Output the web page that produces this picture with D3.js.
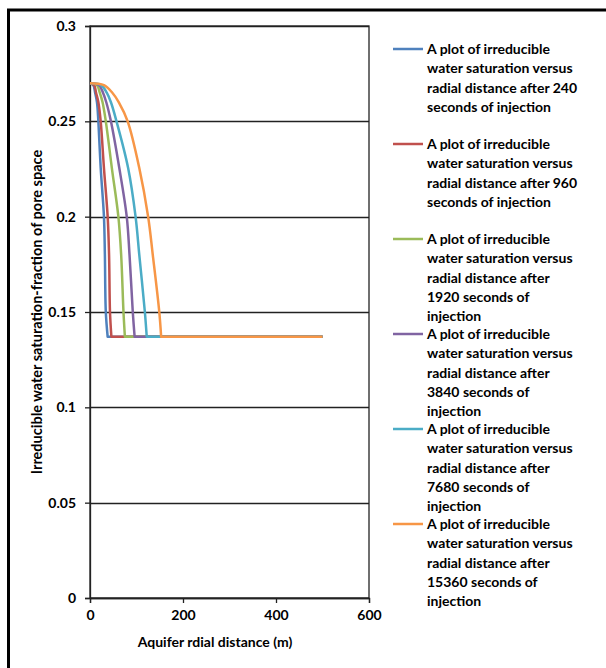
<!DOCTYPE html>
<html>
<head>
<meta charset="utf-8">
<script src="https://cdn.jsdelivr.net/npm/d3@7"></script>
<style>
  body { margin: 0; background: #fff; }
  text { font-family: Lato, "Open Sans", sans-serif; font-weight: bold; fill: #000; }
</style>
</head>
<body>
<div id="chart-area"></div>
<script>
// injection times (s) of each curve
const times = [240, 960, 1920, 3840, 7680, 15360];
// saturation levels (fraction of pore space) the distances were read at
const satLevels = [0.27, 0.269, 0.265, 0.26, 0.25, 0.2255, 0.2, 0.18, 0.15, 0.137, 0.137];
// radial distance (m) of each curve at those levels
const dist240 = [0, 7, 11, 15, 18, 23, 30, 32, 34, 38, 500];
const dist960 = [0, 9, 13, 18, 23, 30, 38, 41, 43, 46, 500];
const dist1920 = [0, 15, 21, 27, 34, 47, 61, 67, 72, 75, 500];
const dist3840 = [0, 19, 28, 35, 45, 63, 79, 85, 92, 96, 500];
const dist7680 = [0, 24, 36, 45, 57, 82, 98, 106, 118, 122, 500];
const dist15360 = [0, 30, 48, 62, 81, 106, 125, 135, 149, 153, 500];
const colors = ["#4F81BD", "#C0504D", "#9BBB59", "#8064A2", "#4BACC6", "#F79646"];
const xTicks = [0, 200, 400, 600];
const yTicks = [0, 0.05, 0.1, 0.15, 0.2, 0.25, 0.3];
const legendLines = [
    ["A plot of irreducible", "water saturation versus", "radial distance after 240", "seconds of injection"],
    ["A plot of irreducible", "water saturation versus", "radial distance after 960", "seconds of injection"],
    ["A plot of irreducible", "water saturation versus", "radial distance after", "1920 seconds of", "injection"],
    ["A plot of irreducible", "water saturation versus", "radial distance after", "3840 seconds of", "injection"],
    ["A plot of irreducible", "water saturation versus", "radial distance after", "7680 seconds of", "injection"],
    ["A plot of irreducible", "water saturation versus", "radial distance after", "15360 seconds of", "injection"]
];

const width = 606, height = 668;
const plotLeft = 90, plotRight = 369, plotTop = 26, plotBottom = 598;

const series = [dist240, dist960, dist1920, dist3840, dist7680, dist15360].map((d, i) => ({
    time: times[i],
    color: colors[i],
    points: d.map((x, j) => [x, satLevels[j]])
}));

const svg = d3.select("#chart-area")
    .append("svg")
    .attr("width", width)
    .attr("height", height);

// outer frame
svg.append("rect")
    .attr("x", 8.5).attr("y", 10)
    .attr("width", 620).attr("height", 700)
    .attr("fill", "none")
    .attr("stroke", "#000")
    .attr("stroke-width", 3);

const x = d3.scaleLinear().domain([0, 600]).range([plotLeft, plotRight]);
const y = d3.scaleLinear().domain([0, 0.3]).range([plotBottom, plotTop]);

// gridlines
svg.append("g")
    .selectAll("line")
    .data(yTicks)
    .join("line")
    .attr("x1", plotLeft).attr("x2", plotRight)
    .attr("y1", d => Math.round(y(d)) + 0.5)
    .attr("y2", d => Math.round(y(d)) + 0.5)
    .attr("stroke", "#222")
    .attr("stroke-width", 1.3);

// plot area border
svg.append("rect")
    .attr("x", plotLeft).attr("y", plotTop)
    .attr("width", plotRight - plotLeft).attr("height", plotBottom - plotTop)
    .attr("fill", "none")
    .attr("stroke", "#222")
    .attr("stroke-width", 1.3);

const yAxis = svg.append("g")
    .attr("transform", `translate(${plotLeft},0)`)
    .call(d3.axisLeft(y).tickValues(yTicks).tickSize(5).tickPadding(9).tickFormat(d => d));
const xAxis = svg.append("g")
    .attr("transform", `translate(0,${plotBottom})`)
    .call(d3.axisBottom(x).tickValues(xTicks).tickSize(5).tickPadding(7).tickFormat(d => d));

[xAxis, yAxis].forEach(a => {
    a.select(".domain").attr("stroke", "#222").attr("stroke-width", 1.3);
    a.selectAll(".tick line").attr("stroke", "#222").attr("stroke-width", 1.3);
    a.selectAll("text").style("font-size", "14px").attr("fill", "#000");
});

// smooth drop down to the front, then a straight plateau
const curve = d3.line()
    .x(d => x(d[0]))
    .y(d => y(d[1]))
    .curve(d3.curveCatmullRom.alpha(0.5));

function seriesPath(pts) {
    const last = pts[pts.length - 1];
    return curve(pts.slice(0, -1)) + `L${x(last[0])},${y(last[1])}`;
}

svg.append("g")
    .selectAll("path")
    .data(series)
    .join("path")
    .attr("d", d => seriesPath(d.points))
    .attr("fill", "none")
    .attr("stroke", d => d.color)
    .attr("stroke-width", 2.5)
    .attr("stroke-linejoin", "round");

// axis titles
svg.append("text")
    .attr("x", 215)
    .attr("y", 647)
    .attr("text-anchor", "middle")
    .style("font-size", "14px")
    .text("Aquifer rdial distance (m)");

svg.append("text")
    .attr("transform", `translate(42,${(plotTop + plotBottom) / 2}) rotate(-90)`)
    .attr("text-anchor", "middle")
    .style("font-size", "14.5px")
    .text("Irreducible water saturation-fraction of pore space");

// legend
const legend = svg.append("g")
    .selectAll("g")
    .data(series)
    .join("g")
    .attr("transform", (d, i) => `translate(0,${49 + 95 * i})`);

legend.append("line")
    .attr("x1", 393).attr("x2", 423)
    .attr("y1", 0).attr("y2", 0)
    .attr("stroke", d => d.color)
    .attr("stroke-width", 2.5);

legend.append("text")
    .style("font-size", "14px")
    .attr("y", 5)
    .selectAll("tspan")
    .data((d, i) => legendLines[i])
    .join("tspan")
    .attr("x", 427)
    .attr("dy", (d, j) => j ? 19.3 : 0)
    .text(d => d);
</script>
</body>
</html>
